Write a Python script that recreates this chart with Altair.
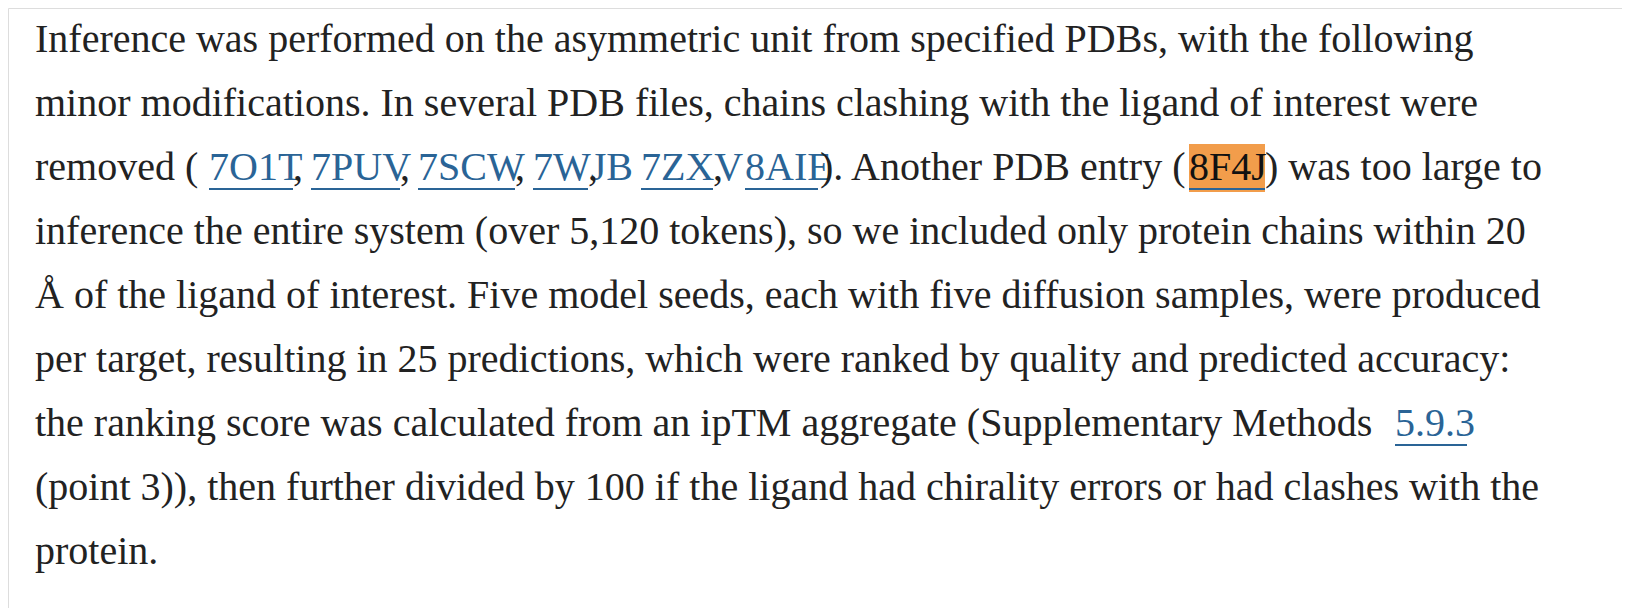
import altair as alt
import pandas as pd

# paragraph text, one entry per segment: line number, left edge (px), text, style
seg_line = [0, 1, 2, 2, 2, 2, 2, 2, 2, 2, 2, 2, 2, 2, 2, 2, 3, 4, 5, 6, 6, 7, 8]
seg_x = [35, 35, 35, 209, 293, 311, 400, 418, 515, 533, 588, 641, 713, 745, 820, 1265,
         35, 35, 35, 35, 1395, 35, 35]
seg_text = [
    "Inference was performed on the asymmetric unit from specified PDBs, with the following",
    "minor modifications. In several PDB files, chains clashing with the ligand of interest were",
    "removed (", "7O1T", ",", "7PUV", ",", "7SCW", ",", "7WJB", ",", "7ZXV", ",", "8AIE",
    "). Another PDB entry (", ") was too large to",
    "inference the entire system (over 5,120 tokens), so we included only protein chains within 20",
    "Å of the ligand of interest. Five model seeds, each with five diffusion samples, were produced",
    "per target, resulting in 25 predictions, which were ranked by quality and predicted accuracy:",
    "the ranking score was calculated from an ipTM aggregate (Supplementary Methods",
    "5.9.3",
    "(point 3)), then further divided by 100 if the ligand had chirality errors or had clashes with the",
    "protein.",
]
seg_kind = ["text", "text", "text", "link", "text", "link", "text", "link", "text", "link",
            "text", "link", "text", "link", "text", "text", "text", "text", "text", "text",
            "link", "text", "text"]
# right edge of each link's underline
link_end = [293, 400, 515, 588, 713, 818, 1467]

# highlighted reference 8F4J
hl_line = [2]
hl_x = [1189]
hl_x2 = [1265]
hl_text = ["8F4J"]

LINE0 = 40
STEP = 64

df = pd.DataFrame({"line": seg_line, "x": seg_x, "text": seg_text, "kind": seg_kind})
df["y"] = LINE0 + STEP * df["line"]

hl = pd.DataFrame({"line": hl_line, "x": hl_x, "x2": hl_x2, "text": hl_text})
hl["y"] = LINE0 + STEP * hl["line"]
hl["y1"] = hl["y"] - 24
hl["y2"] = hl["y"] + 24
hl["yu"] = hl["y"] + 21

xs = alt.Scale(domain=[8, 1622])
ys = alt.Scale(domain=[8, 608], reverse=True)
X = lambda f: alt.X(f, scale=xs, axis=None)
Y = lambda f: alt.Y(f, scale=ys, axis=None)

font = dict(font="Liberation Serif", fontSize=40, align="left", baseline="middle")

box = alt.Chart(hl).mark_rect(color="#f29d4b").encode(
    x=X("x:Q"), x2="x2:Q", y=Y("y1:Q"), y2="y2:Q")
hl_under = alt.Chart(hl).mark_rule(color="#2a6496", strokeWidth=2).encode(
    x=X("x:Q"), x2="x2:Q", y=Y("yu:Q"))
hl_word = alt.Chart(hl).mark_text(color="#111111", **font).encode(
    x=X("x:Q"), y=Y("y:Q"), text="text:N")

words = alt.Chart(df).mark_text(**font).encode(
    x=X("x:Q"), y=Y("y:Q"), text="text:N",
    color=alt.Color("kind:N", scale=alt.Scale(domain=["text", "link"],
                                              range=["#222222", "#2a6496"]), legend=None))

links = df[df["kind"] == "link"].copy()
links["x2"] = link_end
links["yu"] = links["y"] + 21
under = alt.Chart(links).mark_rule(color="#2a6496", strokeWidth=2).encode(
    x=X("x:Q"), x2="x2:Q", y=Y("yu:Q"))

chart = alt.layer(box, under, hl_under, words, hl_word).properties(
    width=1614, height=600, autosize=alt.AutoSizeParams(type="none"), padding=0
).configure_view(stroke=None).configure(background="white")

chart.save("out.html", embed_options={"renderer": "svg", "actions": False})
